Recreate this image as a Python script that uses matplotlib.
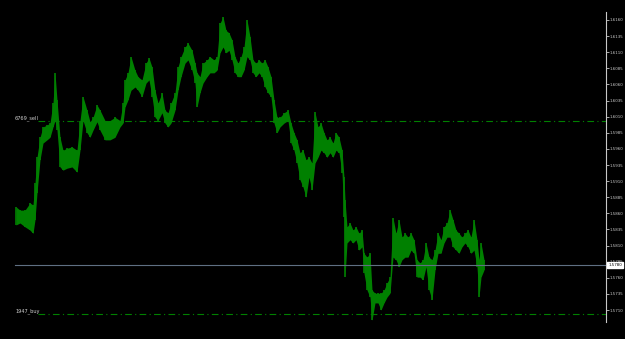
import matplotlib.pyplot as plt

# bar time (chart bar position) and high/low prices
bar_time = [16, 20, 25, 30, 33, 35, 37, 40, 43, 47, 50, 53, 55, 57, 60, 63, 67, 72, 77, 80,
            83, 87, 90, 93, 97, 100, 105, 110, 115, 120, 123, 125, 128, 131, 135, 138, 142, 146, 149, 152,
            155, 158, 162, 165, 168, 171, 175, 178, 181, 185, 188, 192, 195, 197, 200, 203, 207, 210, 214, 217,
            220, 223, 226, 229, 232, 235, 238, 241, 244, 247, 250, 253, 256, 259, 262, 265, 268, 271, 274, 277,
            280, 284, 288, 291, 294, 297, 300, 303, 306, 309, 312, 315, 318, 321, 324, 327, 330, 333, 336, 339,
            342, 344, 345, 347, 350, 353, 356, 359, 362, 364, 367, 370, 372, 375, 378, 381, 384, 387, 390, 393,
            396, 399, 402, 405, 408, 411, 414, 417, 420, 423, 426, 429, 432, 435, 438, 441, 444, 447, 450, 453,
            456, 459, 462, 465, 468, 471, 474, 477, 479, 481, 484]
highs = [1.5870, 1.5865, 1.5865, 1.5876, 1.5873, 1.5907, 1.5947, 1.5978, 1.5994, 1.5997, 1.6000, 1.6031, 1.6078, 1.6036, 1.5978, 1.5958, 1.5961, 1.5963, 1.5958, 1.6004,
         1.6041, 1.6020, 1.6002, 1.6009, 1.6028, 1.6020, 1.6004, 1.6004, 1.6009, 1.6004, 1.6031, 1.6067, 1.6078, 1.6103, 1.6082, 1.6072, 1.6067, 1.6093, 1.6101, 1.6087,
         1.6051, 1.6031, 1.6047, 1.6020, 1.6016, 1.6031, 1.6047, 1.6087, 1.6103, 1.6118, 1.6124, 1.6113, 1.6093, 1.6078, 1.6072, 1.6093, 1.6098, 1.6103, 1.6098, 1.6103,
         1.6155, 1.6165, 1.6144, 1.6140, 1.6129, 1.6103, 1.6093, 1.6103, 1.6118, 1.6160, 1.6134, 1.6098, 1.6093, 1.6098, 1.6093, 1.6098, 1.6087, 1.6072, 1.6036, 1.6009,
         1.6009, 1.6016, 1.6020, 1.6000, 1.5985, 1.5974, 1.5954, 1.5958, 1.5943, 1.5947, 1.5938, 1.6017, 1.5994, 1.6000, 1.5985, 1.5974, 1.5978, 1.5969, 1.5985, 1.5978,
         1.5958, 1.5916, 1.5881, 1.5839, 1.5845, 1.5834, 1.5839, 1.5829, 1.5834, 1.5798, 1.5792, 1.5798, 1.5741, 1.5736, 1.5736, 1.5736, 1.5741, 1.5752, 1.5761, 1.5853,
         1.5829, 1.5850, 1.5823, 1.5829, 1.5823, 1.5829, 1.5819, 1.5788, 1.5783, 1.5788, 1.5814, 1.5792, 1.5788, 1.5803, 1.5829, 1.5819, 1.5839, 1.5845, 1.5865, 1.5850,
         1.5834, 1.5829, 1.5823, 1.5829, 1.5834, 1.5823, 1.5850, 1.5819, 1.5788, 1.5814, 1.5788]
lows = [1.5842, 1.5845, 1.5839, 1.5834, 1.5829, 1.5850, 1.5892, 1.5943, 1.5969, 1.5974, 1.5978, 1.5994, 1.6004, 1.5989, 1.5932, 1.5927, 1.5930, 1.5932, 1.5924, 1.5958,
        1.6004, 1.5985, 1.5978, 1.5989, 1.6002, 1.5989, 1.5974, 1.5974, 1.5978, 1.5994, 1.6000, 1.6025, 1.6036, 1.6051, 1.6056, 1.6051, 1.6041, 1.6062, 1.6067, 1.6041,
        1.6009, 1.6004, 1.6016, 1.6000, 1.5994, 1.6000, 1.6020, 1.6051, 1.6072, 1.6093, 1.6098, 1.6082, 1.6062, 1.6025, 1.6047, 1.6062, 1.6072, 1.6078, 1.6078, 1.6082,
        1.6109, 1.6118, 1.6109, 1.6113, 1.6098, 1.6078, 1.6072, 1.6072, 1.6082, 1.6103, 1.6098, 1.6078, 1.6072, 1.6078, 1.6072, 1.6056, 1.6047, 1.6041, 1.6000, 1.5985,
        1.5994, 1.6000, 1.6004, 1.5969, 1.5958, 1.5938, 1.5912, 1.5901, 1.5885, 1.5916, 1.5896, 1.5938, 1.5947, 1.5958, 1.5954, 1.5947, 1.5954, 1.5947, 1.5958, 1.5954,
        1.5923, 1.5854, 1.5761, 1.5814, 1.5819, 1.5814, 1.5819, 1.5803, 1.5808, 1.5767, 1.5741, 1.5730, 1.5694, 1.5721, 1.5721, 1.5710, 1.5721, 1.5730, 1.5736, 1.5792,
        1.5788, 1.5777, 1.5788, 1.5792, 1.5792, 1.5803, 1.5798, 1.5761, 1.5761, 1.5757, 1.5777, 1.5741, 1.5726, 1.5772, 1.5798, 1.5798, 1.5814, 1.5823, 1.5823, 1.5808,
        1.5803, 1.5798, 1.5808, 1.5814, 1.5808, 1.5798, 1.5803, 1.5777, 1.5730, 1.5761, 1.5772]

price_ticks = [1.6160, 1.6135, 1.6110, 1.6085, 1.6060, 1.6035, 1.6010, 1.5985, 1.5960,
               1.5935, 1.5910, 1.5885, 1.5860, 1.5835, 1.5810, 1.5785, 1.5760, 1.5735, 1.5710]
sell_level = 1.6003
buy_level = 1.5704
current_price = 1.5780
sell_label = "6769_sell"
buy_label = "1947_buy"

W, H = 625, 339
fig = plt.figure(figsize=(W / 100, H / 100), dpi=100, facecolor="#000000")
ax = fig.add_axes([0, 17 / H, 606 / W, 310 / H], facecolor="#000000")

green = "#008000"
ax.fill_between(bar_time, lows, highs, color=green, linewidth=0)
ax.vlines(bar_time, lows, highs, color=green, linewidth=1.2)

ax.axhline(sell_level, xmin=38 / 606, color=green, linewidth=0.8, dashes=(6, 3, 1, 3))
ax.axhline(buy_level, xmin=38 / 606, color=green, linewidth=0.8, dashes=(6, 3, 1, 3))
ax.axhline(current_price, xmin=15 / 606, color="#5f6f82", linewidth=0.8)

ax.text(15, sell_level, sell_label, color="#d0d0d0", fontsize=3.6, va="bottom", ha="left")
ax.text(15, buy_level, buy_label, color="#d0d0d0", fontsize=3.6, va="bottom", ha="left")

ax.set_xlim(0, 606)
ax.set_ylim(1.56914, 1.61724)

ax.yaxis.tick_right()
ax.set_yticks(price_ticks)
ax.set_yticklabels([f"{t:.4f}" for t in price_ticks])
ax.tick_params(axis="y", colors="#c8c8c8", labelsize=2.9, length=2.0, width=0.6, pad=0.6)
ax.set_xticks([])

for side in ["top", "bottom", "left"]:
    ax.spines[side].set_visible(False)
ax.spines["right"].set_color("#c8c8c8")
ax.spines["right"].set_linewidth(0.8)

ax.text(1.004, current_price, f"{current_price:.4f}", transform=ax.get_yaxis_transform(),
        fontsize=2.9, color="#000000", va="center", ha="left", zorder=5,
        bbox=dict(facecolor="#ffffff", edgecolor="#ffffff", boxstyle="square,pad=0.25"))

fig.savefig("out.png", dpi=100, facecolor="#000000")
